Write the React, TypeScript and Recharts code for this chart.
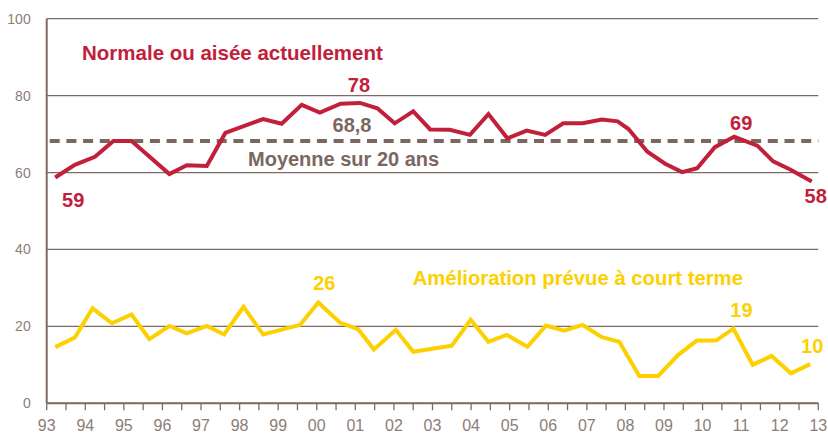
import React from 'react';
import { LineChart, Line, XAxis, YAxis, CartesianGrid, ReferenceLine, LabelList } from 'recharts';

// ---- Data ----
const redYears = [1993.22, 1993.73, 1994.25, 1994.73, 1995.2, 1996.18, 1996.63, 1997.15, 1997.63, 1998.61,
  1999.09, 1999.61, 2000.08, 2000.62, 2001.12, 2001.57, 2002.02, 2002.5, 2002.94, 2003.45,
  2003.97, 2004.45, 2004.94, 2005.44, 2005.92, 2006.39, 2006.89, 2007.39, 2007.8, 2008.08,
  2008.57, 2009.03, 2009.47, 2009.86, 2010.32, 2010.82, 2011.42, 2011.83, 2012.27, 2012.83];
const redValues = [58.7, 62.0, 64.1, 68.2, 68.2, 59.6, 61.9, 61.7, 70.3, 73.9,
  72.7, 77.6, 75.6, 77.9, 78.1, 76.7, 72.8, 75.9, 71.2, 71.1,
  69.8, 75.2, 68.9, 70.9, 69.8, 72.8, 72.8, 73.8, 73.3, 71.3,
  65.4, 62.3, 60.1, 61.1, 66.6, 69.3, 67.0, 62.9, 60.8, 57.7];

const yellowYears = [1993.22, 1993.73, 1994.19, 1994.69, 1995.2, 1995.66, 1996.18, 1996.63, 1997.15, 1997.6,
  1998.1, 1998.61, 1999.57, 2000.04, 2000.6, 2001.08, 2001.48, 2002.05, 2002.5, 2003.5,
  2003.99, 2004.45, 2004.92, 2005.46, 2005.94, 2006.41, 2006.89, 2007.39, 2007.84, 2008.36,
  2008.85, 2009.37, 2009.85, 2010.35, 2010.8, 2011.3, 2011.79, 2012.29, 2012.79];
const yellowValues = [14.6, 17.1, 24.7, 20.8, 23.1, 16.7, 20.1, 18.2, 20.1, 17.9,
  25.1, 17.9, 20.4, 26.2, 21.0, 19.2, 14.0, 19.1, 13.4, 15.0,
  21.7, 16.0, 17.8, 14.7, 20.2, 18.9, 20.4, 17.2, 16.0, 7.1,
  7.1, 12.6, 16.3, 16.3, 19.4, 10.0, 12.3, 7.8, 10.2];

const averageLevel = 68.2; // where the dashed line is drawn in the picture
const averageLabel = '68,8';
const redTitle = 'Normale ou aisée actuellement';
const yellowTitle = 'Amélioration prévue à court terme';
const averageTitle = 'Moyenne sur 20 ans';

const yTicks = [0, 20, 40, 60, 80, 100];
const firstYear = 1993;
const lastYear = 2013;
const xTicks = Array.from({ length: (lastYear - firstYear) * 2 + 1 }, (_, i) => firstYear + i * 0.5);

const redData = redYears.map((t, i) => ({ t, v: redValues[i] }));
const yellowData = yellowYears.map((t, i) => ({ t, v: yellowValues[i] }));

// ---- Styles ----
const RED = '#c1203b';
const YELLOW = '#fdd000';
const BROWN = '#7a6860';
const AXIS = '#7d6b63';
const TICK_TEXT = '#8c7d77';
const FONT = '"Liberation Sans", Arial, Helvetica, sans-serif';

const redSpots = [
  { index: 0, dx: 18, dy: 29 },
  { index: 14, dx: -1, dy: -11 },
  { index: 35, dx: 7, dy: -7 },
  { index: 39, dx: 4, dy: 22 },
];
const yellowSpots = [
  { index: 13, dx: 6, dy: -13 },
  { index: 34, dx: 8, dy: -12 },
  { index: 38, dx: 2, dy: -11 },
];

const makeLabel = (spots: { index: number; dx: number; dy: number }[], color: string) => (props: any) => {
  const { x, y, value, index } = props;
  const s = spots.find((p) => p.index === index);
  if (!s) return null;
  return (
    <text x={x + s.dx} y={y + s.dy} textAnchor="middle" fill={color} fontSize={20} fontWeight="bold" fontFamily={FONT}>
      {Math.round(value)}
    </text>
  );
};

const fmtYear = (v: number) => (Number.isInteger(v) ? String(v % 100).padStart(2, '0') : '');

export default function App() {
  return (
    <div style={{ position: 'absolute', left: 0, top: 0, width: 828, height: 433, background: '#fff' }}>
      <LineChart width={828} height={433} margin={{ top: 18.7, right: 9.7, bottom: 0, left: 0 }}>
        <CartesianGrid horizontal vertical={false} stroke={AXIS} strokeWidth={1.2} />
        <XAxis
          type="number"
          dataKey="t"
          domain={[firstYear, lastYear]}
          ticks={xTicks}
          interval={0}
          tickFormatter={fmtYear}
          height={29.7}
          axisLine={{ stroke: AXIS, strokeWidth: 2 }}
          tickLine={{ stroke: AXIS, strokeWidth: 1.3 }}
          tickSize={7}
          tickMargin={9}
          tick={{ fill: TICK_TEXT, fontSize: 16, fontFamily: FONT }}
          allowDuplicatedCategory={false}
        />
        <YAxis
          type="number"
          domain={[0, 100]}
          ticks={yTicks}
          width={46.7}
          axisLine={{ stroke: AXIS, strokeWidth: 2 }}
          tickLine={false}
          tickSize={6}
          tickMargin={10}
          tick={{ fill: TICK_TEXT, fontSize: 14, fontFamily: FONT }}
        />
        <ReferenceLine y={averageLevel} stroke={BROWN} strokeWidth={4} strokeDasharray="10 6.7" strokeDashoffset={-3} />
        <Line
          data={redData}
          dataKey="v"
          type="linear"
          stroke={RED}
          strokeWidth={4}
          dot={false}
          activeDot={false}
          isAnimationActive={false}
        >
          <LabelList dataKey="v" content={makeLabel(redSpots, RED)} />
        </Line>
        <Line
          data={yellowData}
          dataKey="v"
          type="linear"
          stroke={YELLOW}
          strokeWidth={4}
          dot={false}
          activeDot={false}
          isAnimationActive={false}
        >
          <LabelList dataKey="v" content={makeLabel(yellowSpots, YELLOW)} />
        </Line>
      </LineChart>
      <svg width={828} height={433} style={{ position: 'absolute', left: 0, top: 0, pointerEvents: 'none' }}>
        <g fontFamily={FONT} fontWeight="bold">
          <text x={82} y={60} fontSize={20.5} fill={RED}>{redTitle}</text>
          <text x={352} y={132} fontSize={20} fill={BROWN} textAnchor="middle">{averageLabel}</text>
          <text x={248} y={166} fontSize={20} fill={BROWN}>{averageTitle}</text>
          <text x={412.7} y={285} fontSize={20.3} fill={YELLOW}>{yellowTitle}</text>
        </g>
      </svg>
    </div>
  );
}
